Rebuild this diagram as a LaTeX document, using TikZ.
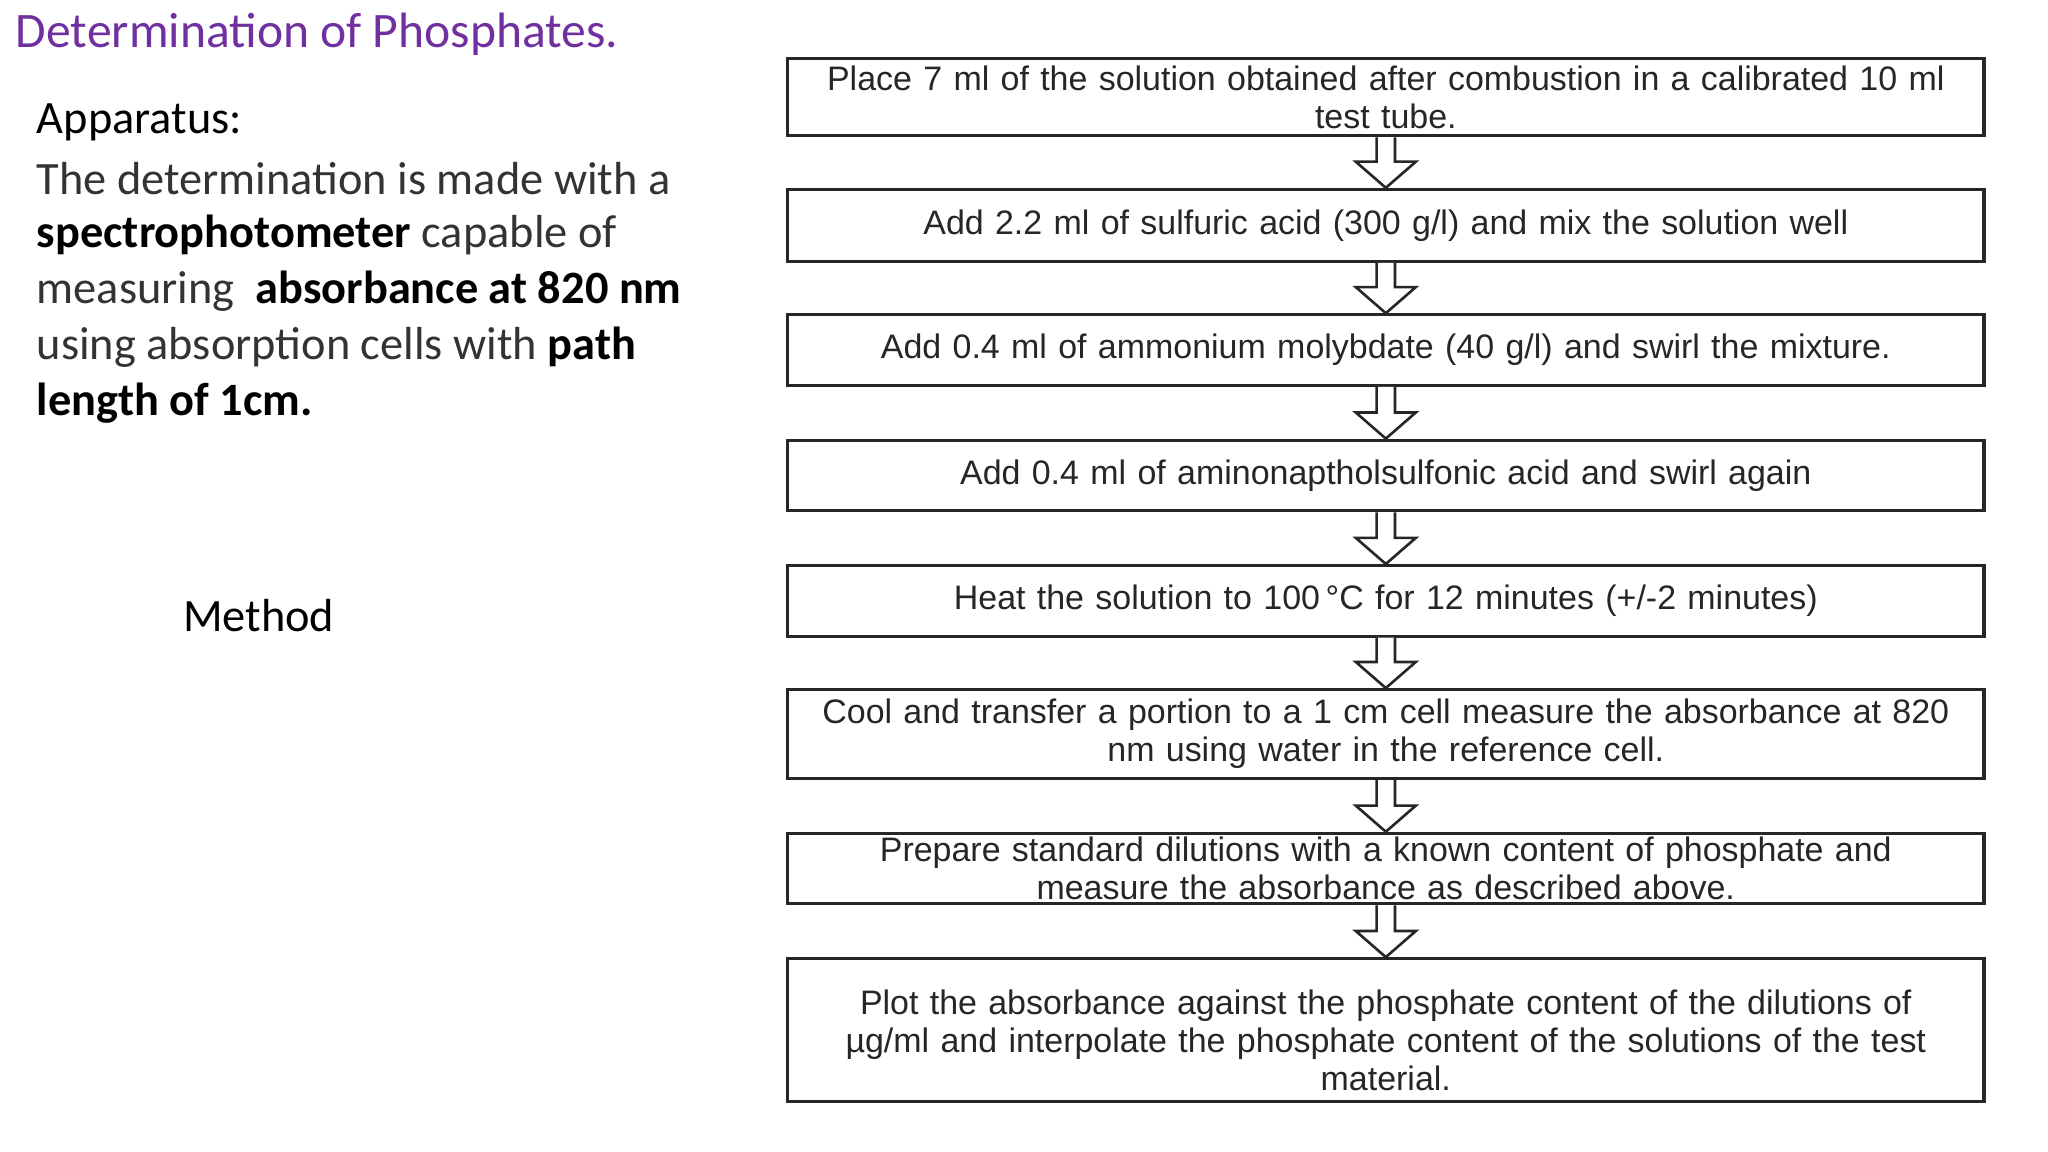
\documentclass[tikz,border=0pt]{standalone}
\usepackage{fontspec}
\setmainfont{Carlito}
\newfontfamily\arialf{Liberation Sans}
\usetikzlibrary{calc}
\definecolor{titlepurple}{RGB}{112,48,160}
\tikzset{
  box/.style={draw=black!85, line width=2.4pt, minimum width=916pt, text width=900pt, align=center, inner sep=0pt, font=\arialf\fontsize{26}{29}\selectfont, text=black!85},
  lefttxt/.style={anchor=west, inner sep=0pt, font=\fontsize{35.5}{43}\selectfont},
  hollow/.style={draw=black!85, line width=2pt, fill=white, line join=miter}
}
\newcommand\downarr[2]{%
  \draw[hollow] let \p1=(#1.south), \p2=(#2.north) in
    (\x1-7pt,\y1) -- (\x1-7pt,\y2+20pt) -- (\x1-23pt,\y2+20pt) -- (\x1,\y2)
    -- (\x1+23pt,\y2+20pt) -- (\x1+7pt,\y2+20pt) -- (\x1+7pt,\y1);}
\begin{document}
\begin{tikzpicture}[x=1pt,y=-1pt]
\useasboundingbox (0,0) rectangle (1568,882);
\node[anchor=west, inner sep=0pt, text=titlepurple, font=\fontsize{38}{40}\selectfont] (title) at (12,26) {Determination of Phosphates.};
\node[lefttxt] (l1) at (28,94) {Apparatus:};
\node[lefttxt, text=black!80] (l2) at (28,137) {The determination is made with a};
\node[lefttxt] (l3) at (28,180) {\textbf{spectrophotometer} {\color{black!80}capable of}};
\node[lefttxt] (l4) at (28,223) {{\color{black!80}measuring}\ \ \textbf{absorbance at 820 nm}};
\node[lefttxt] (l5) at (28,266) {{\color{black!80}using absorption cells with} \textbf{path}};
\node[lefttxt] (l6) at (28,309) {\textbf{length of 1cm.}};
\node[lefttxt] (meth) at (140,471) {Method};

\node[box, minimum height=59pt] (b1) at (1061,74.5) {Place 7 ml of the solution obtained after combustion in a calibrated 10 ml\\ test tube.};
\node[box, minimum height=55pt] (b2) at (1061,172.5) {Add 2.2 ml of sulfuric acid (300 g/l) and mix the solution well};
\node[box, minimum height=54pt] (b3) at (1061,268) {Add 0.4 ml of ammonium molybdate (40 g/l) and swirl the mixture.};
\node[box, minimum height=54pt] (b4) at (1061,364) {Add 0.4 ml of aminonaptholsulfonic acid and swirl again};
\node[box, minimum height=54pt] (b5) at (1061,460) {Heat the solution to 100\,°C for 12 minutes (+/-2 minutes)};
\node[box, minimum height=68pt] (b6) at (1061,562) {Cool and transfer a portion to a 1 cm cell measure the absorbance at 820\\ nm using water in the reference cell.};
\node[box, minimum height=54pt] (b7) at (1061,665) {Prepare standard dilutions with a known content of phosphate and\\ measure the absorbance as described above.};
\node[box, minimum height=109pt] (b8) at (1061,788.5) {\\[6pt]Plot the absorbance against the phosphate content of the dilutions of\\ µg/ml and interpolate the phosphate content of the solutions of the test\\ material.};
\downarr{b1}{b2}
\downarr{b2}{b3}
\downarr{b3}{b4}
\downarr{b4}{b5}
\downarr{b5}{b6}
\downarr{b6}{b7}
\downarr{b7}{b8}
\end{tikzpicture}
\end{document}
